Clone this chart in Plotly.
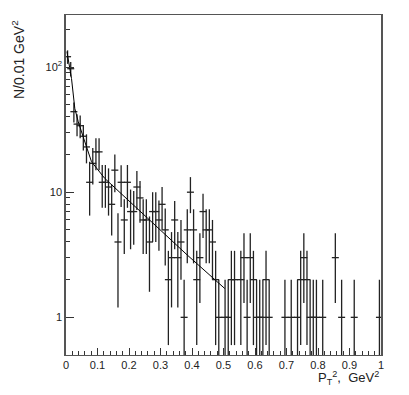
import plotly.graph_objects as go

# counts per 0.01 GeV^2 bin (bin centres 0.005 ... 0.995)
bin_centers = [round(0.005 + 0.01 * i, 3) for i in range(100)]
counts = [121, 97, 44, 35, 34, 28, 23, 12, 17, 21,
          21, 12, 12, 11, 8, 15, 4, 12, 6, 12,
          7, 7, 11, 9, 6, 6, 4, 7, 7, 6,
          8, 5, 2, 3, 6, 3, 4, 1, 5, 10,
          5, 2, 3, 7, 5, 5, 4, 2, 1, 0,
          1, 1, 2, 2, 0, 2, 3, 1, 3, 2,
          1, 1, 1, 2, 1, 0, 0, 0, 0, 1,
          0, 1, 0, 1, 2, 3, 2, 1, 1, 1,
          0, 1, 0, 0, 0, 3, 0, 1, 0, 0,
          0, 1, 0, 0, 0, 0, 0, 0, 0, 1]
errors = [15, 13, 8, 7, 7, 6.5, 6, 5.5, 5.5, 6,
          6, 4.5, 4.5, 4.5, 3.5, 5, 2.8, 4.4, 2.8, 4.5,
          3.5, 3.2, 3.8, 3.3, 2.8, 2.8, 2.4, 3, 3, 2.6,
          3, 2.4, 1.4, 1.8, 2.5, 1.8, 2, 1, 2.3, 3.2,
          2.3, 1.4, 1.7, 2.7, 2.3, 2.3, 2, 1.4, 1, 0,
          1, 1, 1.4, 1.4, 0, 1.4, 1.7, 1, 1.7, 1.4,
          1, 1, 1, 1.4, 1, 0, 0, 0, 0, 1,
          0, 1, 0, 1, 1.4, 1.7, 1.4, 1, 1, 1,
          0, 1, 0, 0, 0, 1.7, 0, 1, 0, 0,
          0, 1, 0, 0, 0, 0, 0, 0, 0, 1]

# fitted curve
fit_x = [0.003, 0.0175, 0.028, 0.039, 0.0545, 0.081, 0.123, 0.186, 0.386, 0.504]
fit_y = [133, 81, 46.6, 36.5, 27.7, 17.5, 12.9, 9.2, 3.13, 1.70]

# empty bins are not drawn
xs = [x for x, n in zip(bin_centers, counts) if n > 0]
ys = [n for n in counts if n > 0]
es = [e for e, n in zip(errors, counts) if n > 0]

fig = go.Figure()

fig.add_trace(go.Scatter(
    x=xs, y=ys,
    mode='markers',
    marker=dict(symbol='line-ew', size=5, color='#222',
                line=dict(width=1.3, color='#222')),
    error_y=dict(type='data', array=es, visible=True,
                 color='#222', thickness=1.3, width=0),
    showlegend=False
))

fig.add_trace(go.Scatter(
    x=fit_x, y=fit_y,
    mode='lines',
    line=dict(color='black', width=1),
    showlegend=False
))

font_name = 'Liberation Sans, Arial, sans-serif'
tick_font = dict(family=font_name, size=11, color='#222')

fig.update_xaxes(
    range=[0, 1], dtick=0.1, tick0=0,
    ticks='inside', ticklen=7, tickcolor='#333',
    minor=dict(dtick=0.02, ticks='inside', ticklen=4, tickcolor='#333'),
    showline=True, linecolor='#555', linewidth=1, mirror=True,
    showgrid=False, zeroline=False, tickfont=tick_font
)
fig.update_yaxes(
    type='log', range=[-0.301, 2.416],
    tickvals=[1, 10, 100], ticktext=['1', '10', '10<sup>2</sup>'],
    ticks='inside', ticklen=8, tickcolor='#333',
    minor=dict(tickvals=[2, 3, 4, 5, 6, 7, 8, 9, 20, 30, 40, 50, 60, 70, 80, 90, 200],
               ticks='inside', ticklen=4, tickcolor='#333'),
    showline=True, linecolor='#555', linewidth=1.5, mirror=True,
    showgrid=False, zeroline=False, tickfont=tick_font
)

fig.add_annotation(
    text='N/0.01 GeV<sup>2</sup>', textangle=-90,
    xref='paper', yref='paper', x=-0.152, y=0.99,
    xanchor='center', yanchor='top', showarrow=False,
    font=dict(family=font_name, size=14, color='#222')
)
fig.add_annotation(
    text='P<sub>T</sub><sup>2</sup>,  GeV<sup>2</sup>',
    xref='paper', yref='paper', x=1.0, y=-0.068,
    xanchor='right', yanchor='middle', showarrow=False,
    font=dict(family=font_name, size=13, color='#222')
)

# the page body adds an 8px offset, so margins are set 8px smaller on the left/top
fig.update_layout(
    width=409, height=395,
    margin=dict(l=58, r=36, t=7, b=48),
    plot_bgcolor='white', paper_bgcolor='white'
)

fig.write_html("out.html")
